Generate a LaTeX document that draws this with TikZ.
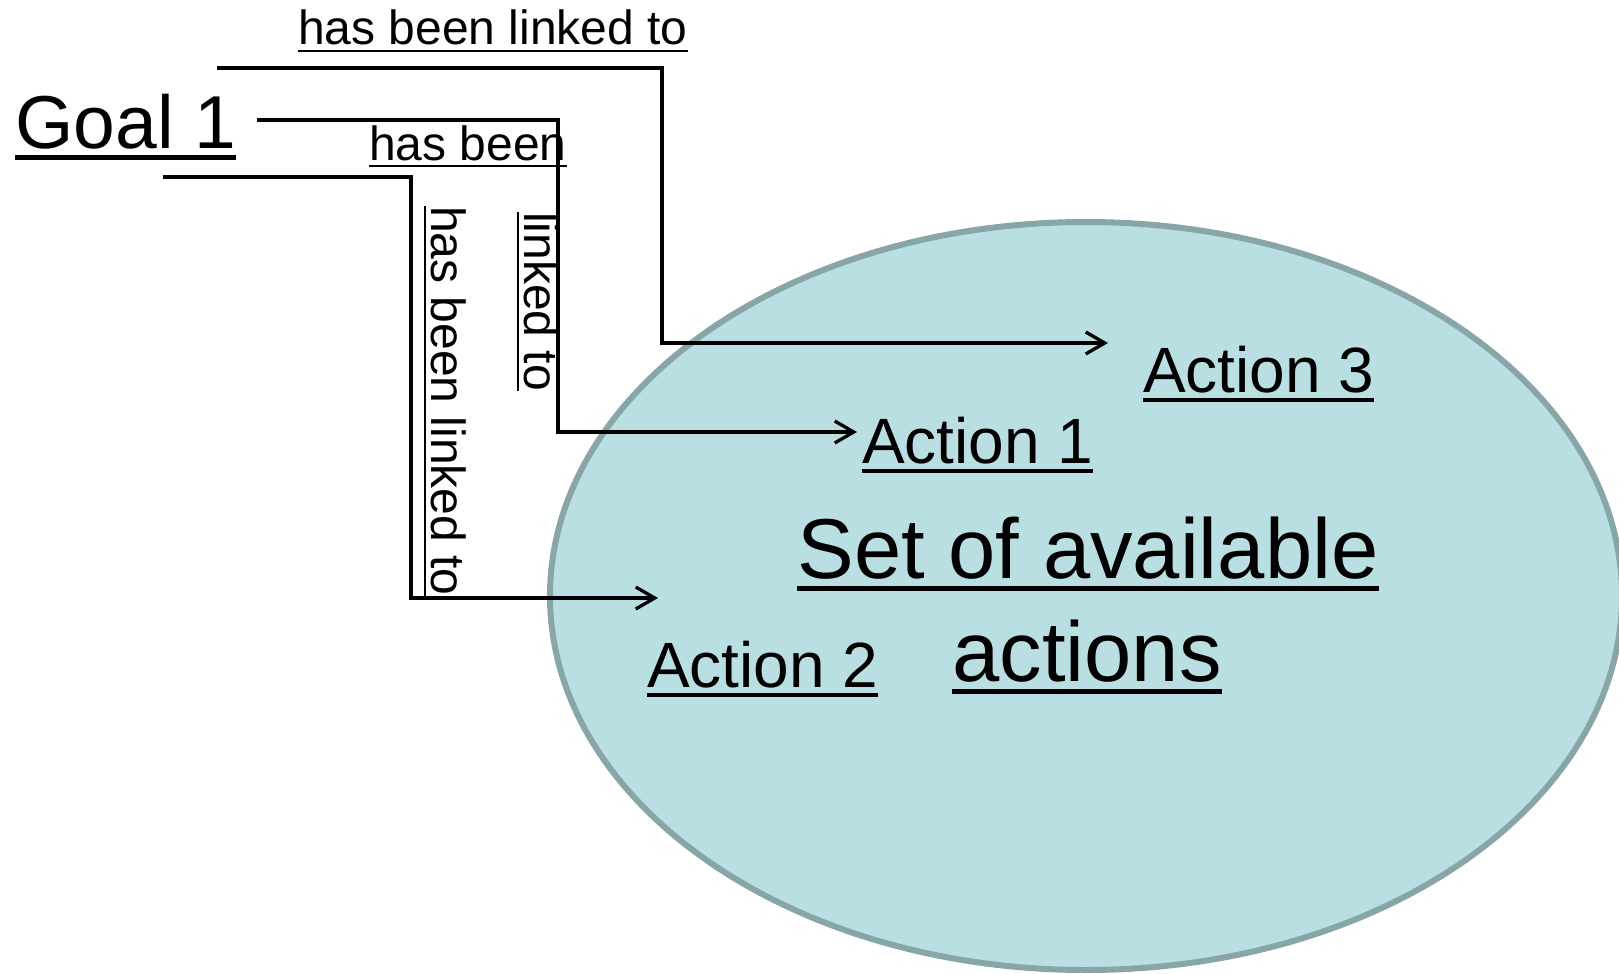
\documentclass[tikz,border=0pt]{standalone}
\usepackage{fontspec}
\setmainfont{Liberation Sans}
\usetikzlibrary{arrows.meta}
\definecolor{setfill}{HTML}{B9DFE2}
\definecolor{setline}{HTML}{88A6A8}
\newcommand\ulbox[1]{\setbox0\hbox{#1}\rlap{\rule[-0.155em]{\wd0}{0.06em}}\box0}
\tikzset{
  lbl/.style={inner sep=0pt, outer sep=0pt, anchor=base west, font=\fontsize{48}{58}\selectfont},
  actlbl/.style={inner sep=0pt, outer sep=0pt, anchor=base west, font=\fontsize{64}{77}\selectfont},
  biglbl/.style={inner sep=0pt, outer sep=0pt, anchor=base, font=\fontsize{85}{103}\selectfont},
  link/.style={line width=3.3pt, -{Straight Barb[length=19pt,width=22pt]}}
}
\begin{document}
\begin{tikzpicture}[x=1pt,y=-1pt]
\useasboundingbox (0,0) rectangle (1619,974);
% set ellipse
\draw[fill=setfill, draw=setline, line width=6pt] (1086,596) ellipse [x radius=536, y radius=374];
% texts
\node[lbl] (toplbl) at (298,45) {\ulbox{has been linked to}};
\node[inner sep=0pt, outer sep=0pt, anchor=base west, font=\fontsize{75}{90}\selectfont] (goal) at (15.5,148) {\ulbox{Goal 1}};
\node[lbl] (midlbl) at (369,160) {\ulbox{has been}};
\node[lbl, rotate=-90] (vlbl1) at (524,212) {\ulbox{linked to}};
\node[lbl, rotate=-90] (vlbl2) at (431,206) {\ulbox{has been linked to}};
\node[actlbl] (act3) at (1143,392) {\ulbox{Action 3}};
\node[actlbl] (act1) at (862,463) {\ulbox{Action 1}};
\node[actlbl] (act2) at (647,687) {\ulbox{Action 2}};
\node[biglbl] (set1) at (1088,578) {\ulbox{Set of available}};
\node[biglbl] (set2) at (1087,681) {\ulbox{actions}};
% connectors
\coordinate (s1) at (217,68);
\coordinate (e1) at (1108,343);
\coordinate (s2) at (257,120);
\coordinate (e2) at (857,432);
\coordinate (s3) at (163,177);
\coordinate (e3) at (658,598);
\draw[link] (s1) -| (662,343) -- (e1);
\draw[link] (s2) -| (558,432) -- (e2);
\draw[link] (s3) -| (411,598) -- (e3);
\end{tikzpicture}
\end{document}
